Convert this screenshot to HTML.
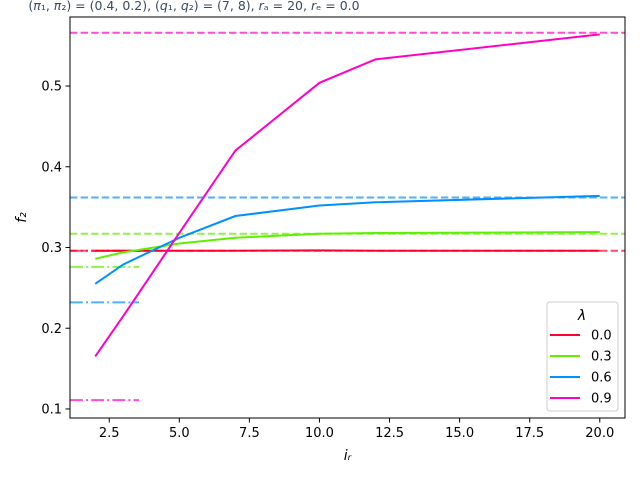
<!DOCTYPE html>
<html><head><meta charset="utf-8"><style>
body{margin:0;background:#fff;}
svg text{font-family:"DejaVu Sans","Liberation Sans",sans-serif;}
</style></head><body>
<svg id="chart" width="640" height="480" xmlns="http://www.w3.org/2000/svg">
<rect width="640" height="480" fill="#fff"/>
<text x="194" y="10" text-anchor="middle" font-size="12.5" fill="#3a4a5f">(<tspan font-style="italic">π</tspan>₁, <tspan font-style="italic">π</tspan>₂) = (0.4, 0.2),  (<tspan font-style="italic">q</tspan>₁, <tspan font-style="italic">q</tspan>₂) = (7, 8),  <tspan font-style="italic">r</tspan>ₐ = 20,  <tspan font-style="italic">r</tspan>ₑ = 0.0</text>
<g id="marks"></g>
<g id="axes"></g>
</svg>
<script>
const xs = [2, 3, 5, 7, 10, 12, 20];
const lambdas = ["0.0", "0.3", "0.6", "0.9"];
const seriesRed = [0.296, 0.296, 0.296, 0.296, 0.2965, 0.296, 0.296];
const seriesGreen = [0.286, 0.294, 0.305, 0.312, 0.317, 0.318, 0.319];
const seriesBlue = [0.255, 0.279, 0.312, 0.339, 0.352, 0.356, 0.364];
const seriesPink = [0.165, 0.215, 0.318, 0.42, 0.504, 0.533, 0.564];
const dashedLevels = [0.296, 0.317, 0.362, 0.566];
const dashDotLevels = [0.296, 0.276, 0.232, 0.111];
const xTicks = [2.5, 5.0, 7.5, 10.0, 12.5, 15.0, 17.5, 20.0];
const yTicks = [0.1, 0.2, 0.3, 0.4, 0.5];
const colors = ["#ff0033", "#5ef000", "#0090ff", "#ff00c8"];

const L=70,R=625,T=17,B=418;
const xMin=1.1,xMax=20.9,yMin=0.0888,yMax=0.5855;
const X=v=>L+(v-xMin)/(xMax-xMin)*(R-L);
const Y=v=>B-(v-yMin)/(yMax-yMin)*(B-T);
const NS="http://www.w3.org/2000/svg";
const marks=document.getElementById('marks'), axes=document.getElementById('axes');
function mk(tag,attrs,parent){const e=document.createElementNS(NS,tag);for(const k in attrs)e.setAttribute(k,attrs[k]);parent.appendChild(e);return e;}

const series=[seriesRed,seriesGreen,seriesBlue,seriesPink];
dashedLevels.forEach((v,i)=>{
  const l=mk('line',{x1:L,x2:R,y1:Y(v),y2:Y(v),stroke:colors[i],'stroke-opacity':0.7,'stroke-width':2,'stroke-dasharray':'7.4,3.2'},marks);
  
  
});
dashDotLevels.forEach((v,i)=>{
  const l=mk('line',{x1:L,x2:139,y1:Y(v),y2:Y(v),stroke:colors[i],'stroke-opacity':0.7,'stroke-width':2,'stroke-dasharray':'12.8,3.2,2,3.2'},marks);
  
  
});
series.forEach((s,i)=>{
  const p=mk('polyline',{points:s.map((v,j)=>X(xs[j])+','+Y(v)).join(' '),fill:'none',stroke:colors[i],'stroke-width':2},marks);
  
  
});

const frame=mk('rect',{x:L,y:T,width:R-L,height:B-T,fill:'none',stroke:'#000','stroke-width':1},axes);


xTicks.forEach(t=>{
  mk('line',{x1:X(t),x2:X(t),y1:B,y2:B+4.5,stroke:'#000'},axes);
  const tx=mk('text',{x:X(t),y:B+19,'text-anchor':'middle','font-size':13},axes);
  tx.textContent=t.toFixed(1);
  
  
});
yTicks.forEach(t=>{
  mk('line',{x1:L-4.5,x2:L,y1:Y(t),y2:Y(t),stroke:'#000'},axes);
  const tx=mk('text',{x:L-8,y:Y(t)+4.6,'text-anchor':'end','font-size':13},axes);
  tx.textContent=t.toFixed(1);
  
  
});
const xl=mk('text',{x:(L+R)/2,y:460,'text-anchor':'middle','font-size':14,'font-style':'italic'},axes);
xl.textContent='iᵣ';


const yl=mk('text',{x:26,y:(T+B)/2,'text-anchor':'middle','font-size':14,'font-style':'italic',transform:'rotate(-90 26 '+((T+B)/2)+')'},axes);
yl.textContent='f₂';



const lg=mk('g',{},axes);


mk('rect',{x:547,y:302,width:71,height:109,rx:3,fill:'#fff','fill-opacity':0.8,stroke:'#ccc'},lg);
const lt=mk('text',{x:582,y:320,'text-anchor':'middle','font-size':14,'font-style':'italic'},lg);
lt.textContent='λ';


lambdas.forEach((n,i)=>{
  const y=335+i*21;
  const g=mk('g',{},lg);
  
  
  mk('line',{x1:550,x2:580,y1:y,y2:y,stroke:colors[i],'stroke-width':2},g);
  const t=mk('text',{x:591,y:y+4.6,'font-size':13},g);
  t.textContent=n;
});
</script>
</body></html>
